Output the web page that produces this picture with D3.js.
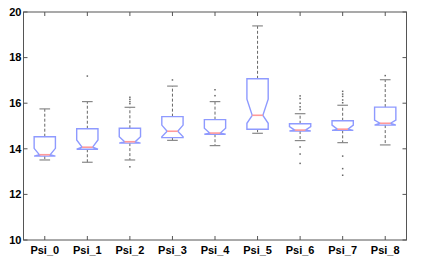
<!DOCTYPE html>
<html>
<head>
<meta charset="utf-8">
<script src="https://cdn.jsdelivr.net/npm/d3@7"></script>
<style>
  body { margin: 0; background: #fff; }
  svg { display: block; }
  .tick-label { font-family: "Liberation Sans", Arial, sans-serif; font-weight: bold; font-size: 11px; fill: #000; }
</style>
</head>
<body>
<div id="chart"></div>
<script>
// values
const categories = ['Psi_0', 'Psi_1', 'Psi_2', 'Psi_3', 'Psi_4', 'Psi_5', 'Psi_6', 'Psi_7', 'Psi_8'];
const whiskerHi = [15.75, 16.07, 15.82, 16.75, 16.07, 19.39, 15.54, 15.91, 17.03];
const q3 = [14.53, 14.88, 14.90, 15.41, 15.28, 17.07, 15.10, 15.23, 15.83];
const notchHi = [14.02, 14.39, 14.53, 15.04, 14.90, 16.18, 14.97, 15.04, 15.26];
const medians = [13.74, 14.07, 14.31, 14.77, 14.69, 15.47, 14.82, 14.86, 15.12];
const notchLo = [13.68, 13.98, 14.25, 14.53, 14.64, 15.12, 14.78, 14.81, 15.04];
const q1 = [13.68, 13.98, 14.25, 14.49, 14.64, 14.86, 14.78, 14.81, 15.04];
const whiskerLo = [13.51, 13.41, 13.51, 14.37, 14.14, 14.68, 14.36, 14.27, 14.17];
const outliers = [
  [],
  [17.19],
  [16.26, 16.17, 16.07, 15.98, 13.21],
  [17.02],
  [16.59, 16.33],
  [],
  [16.32, 16.20, 16.00, 15.84, 15.72, 14.08, 13.77, 13.36],
  [16.52, 16.40, 16.30, 16.14, 16.02, 13.68, 13.13, 12.84],
  [17.21]
];
const yTicks = [10, 12, 14, 16, 18, 20];

const W = 429, H = 273;
const margin = { top: 12, right: 22.5, bottom: 33, left: 23.5 };
const width = W - margin.left - margin.right;
const height = H - margin.top - margin.bottom;

const svg = d3.select('#chart').append('svg')
  .attr('width', W)
  .attr('height', H);

const g = svg.append('g')
  .attr('transform', `translate(${margin.left},${margin.top})`);

// x in box units, like matlab: 1..n with limits 0.5..n+0.5
const x = d3.scaleLinear()
  .domain([0.5, categories.length + 0.5])
  .range([0, width]);

const y = d3.scaleLinear()
  .domain([10, 20])
  .range([height, 0]);

const boxW = x(1.5) - x(1);   // half a unit wide
const tickLen = 4;
const axisClr = '#555';

// frame
g.append('rect')
  .attr('x', 0).attr('y', 0)
  .attr('width', width).attr('height', height)
  .attr('fill', 'none')
  .attr('stroke', axisClr)
  .attr('stroke-width', 1);

// y ticks, left and right, drawn inward
yTicks.forEach(t => {
  g.append('line').attr('x1', 0).attr('x2', tickLen)
    .attr('y1', y(t)).attr('y2', y(t)).attr('stroke', axisClr);
  g.append('line').attr('x1', width - tickLen).attr('x2', width)
    .attr('y1', y(t)).attr('y2', y(t)).attr('stroke', axisClr);
  g.append('text')
    .attr('class', 'tick-label')
    .attr('x', -2)
    .attr('y', y(t))
    .attr('dy', '0.35em')
    .attr('text-anchor', 'end')
    .text(t);
});

// x ticks, top and bottom
categories.forEach((c, i) => {
  const cx = x(i + 1);
  g.append('line').attr('x1', cx).attr('x2', cx)
    .attr('y1', height).attr('y2', height - tickLen).attr('stroke', axisClr);
  g.append('line').attr('x1', cx).attr('x2', cx)
    .attr('y1', 0).attr('y2', tickLen).attr('stroke', axisClr);
  g.append('text')
    .attr('class', 'tick-label')
    .attr('x', cx)
    .attr('y', height + 14)
    .attr('text-anchor', 'middle')
    .text(c);
});

const boxes = g.append('g').attr('class', 'boxes');

categories.forEach((c, i) => {
  const cx = x(i + 1);
  const l = cx - boxW / 2, r = cx + boxW / 2;
  const nl = cx - boxW / 4, nr = cx + boxW / 4;

  // whiskers
  const wg = boxes.append('g');
  wg.append('line').attr('x1', cx).attr('x2', cx)
    .attr('y1', y(q3[i])).attr('y2', y(whiskerHi[i]))
    .attr('stroke', '#666').attr('stroke-dasharray', '3,2');
  wg.append('line').attr('x1', cx).attr('x2', cx)
    .attr('y1', y(q1[i])).attr('y2', y(whiskerLo[i]))
    .attr('stroke', '#666').attr('stroke-dasharray', '3,2');
  [whiskerHi[i], whiskerLo[i]].forEach(v => {
    wg.append('line')
      .attr('x1', cx - boxW / 4).attr('x2', cx + boxW / 4)
      .attr('y1', y(v)).attr('y2', y(v))
      .attr('stroke', '#888')
      .attr('stroke-width', 1.2);
  });

  // notched box
  const pts = [
    [l, q3[i]], [l, notchHi[i]], [nl, medians[i]], [l, notchLo[i]], [l, q1[i]],
    [r, q1[i]], [r, notchLo[i]], [nr, medians[i]], [r, notchHi[i]], [r, q3[i]]
  ];
  boxes.append('path')
    .attr('d', d3.line().x(p => p[0]).y(p => y(p[1]))(pts) + 'Z')
    .attr('fill', 'none')
    .attr('stroke', '#8e9aff')
    .attr('stroke-width', 1.4);

  // median
  boxes.append('line')
    .attr('x1', nl).attr('x2', nr)
    .attr('y1', y(medians[i])).attr('y2', y(medians[i]))
    .attr('stroke', '#ff9a9a')
    .attr('stroke-width', 1.6);

  // outliers
  boxes.selectAll(null)
    .data(outliers[i])
    .enter()
    .append('rect')
    .attr('x', cx - 0.75)
    .attr('y', d => y(d) - 0.75)
    .attr('width', 1.5)
    .attr('height', 1.5)
    .attr('fill', '#666');
});
</script>
</body>
</html>
